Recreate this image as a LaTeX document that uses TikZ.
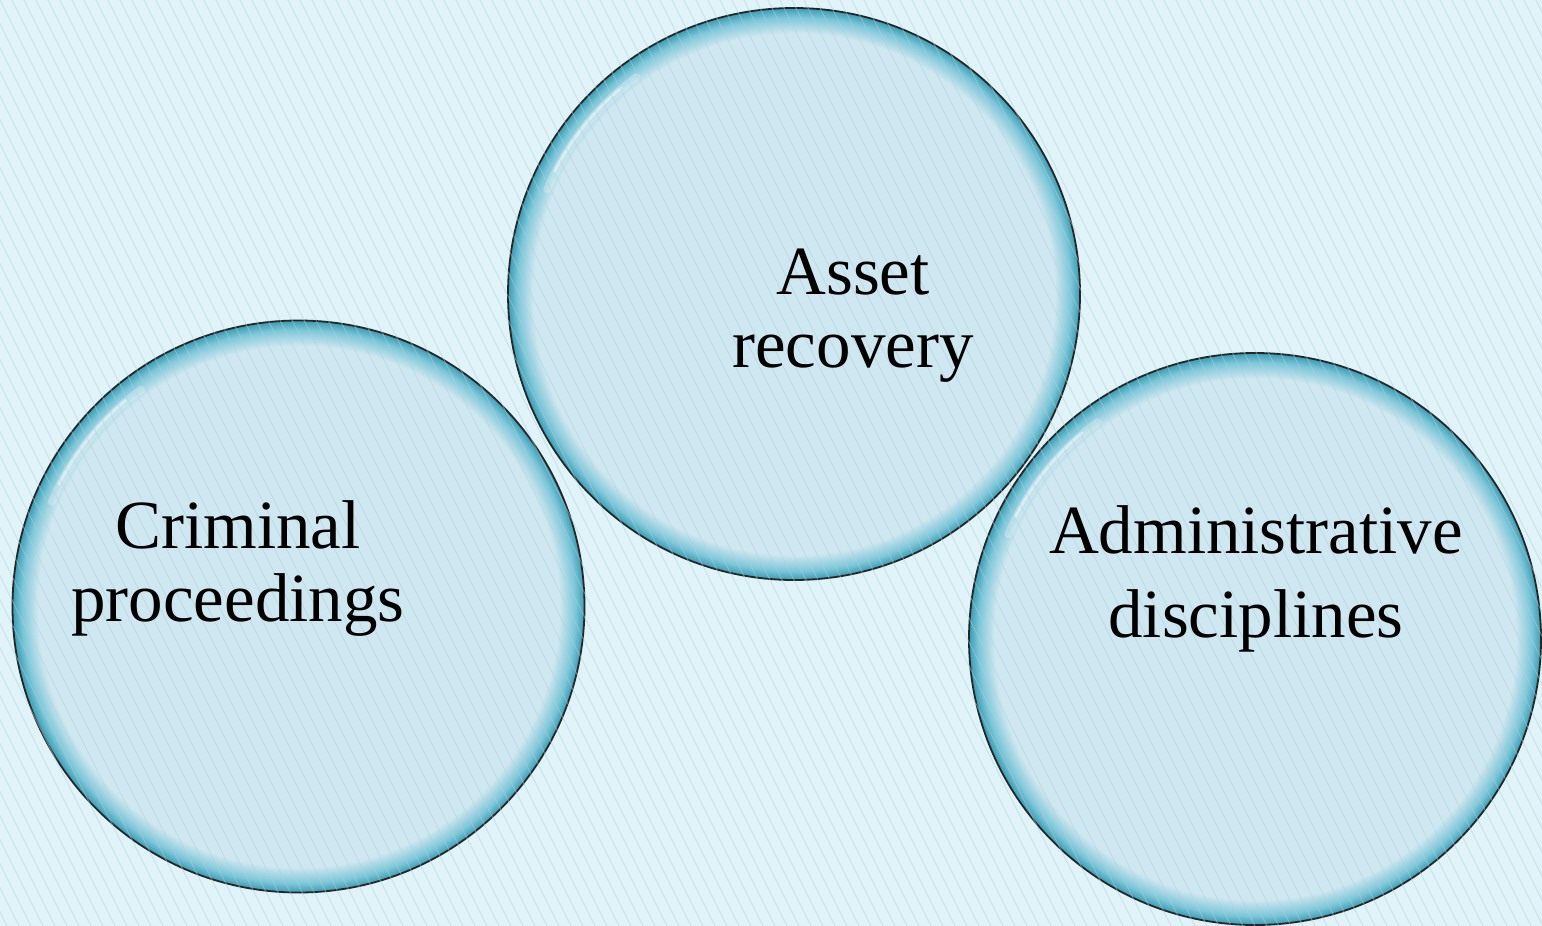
\documentclass[tikz,border=0pt]{standalone}
\usepackage{fontspec}
\setmainfont{Liberation Serif}
\usepackage{tikz}

\definecolor{bgcol}{HTML}{DFF3F8}
\definecolor{hatchcol}{HTML}{B0D0DC}
\definecolor{bubfill}{HTML}{CFE7F0}
\definecolor{rimmid}{HTML}{7CC6D8}
\definecolor{rimdark}{HTML}{3A9CB4}

\pgfdeclareradialshading{bubblerim}{\pgfpoint{0bp}{0bp}}{color(0bp)=(bubfill); color(22.8bp)=(bubfill); color(24.2bp)=(rimmid); color(25bp)=(rimdark); color(50bp)=(rimdark)}

\tikzset{
	bubble/.style={circle, minimum size=572pt, inner sep=0pt, draw=black!85, line width=1.8pt, shading=bubblerim},
	shine/.style={white, line cap=round, opacity=0.25, line width=8pt},
	label/.style={font=\fontsize{69}{73}\selectfont, align=center, inner sep=0pt}
}

\begin{document}
\begin{tikzpicture}[x=1pt, y=-1pt]
	\useasboundingbox (0,0) rectangle (1542,926);
	\fill[bgcol] (0,0) rectangle (1542,926);

	% the three bubbles
	\node (crim) [bubble] at (298.5,606.5) {};
	\node (asset) [bubble] at (794,294) {};
	\node (admin) [bubble] at (1255,639) {};

	% light on the upper left rim
	\foreach \c in {crim, asset, admin} {
		\draw[shine] (\c.center) ++(203:268) arc[start angle=203, end angle=234, radius=268];
		\draw[shine, line width=3pt, opacity=0.45] (\c.center) ++(207:269) arc[start angle=207, end angle=230, radius=269];
	}

	% hatching over everything
	\begin{scope}
		\clip (0,0) rectangle (1542,926);
		\foreach \i in {-40,...,130}
			\draw[hatchcol, opacity=0.45, line width=1pt] (\i*12, 0) -- (\i*12+463, 926);
	\end{scope}

	\node (crimtext) [label] at (238,569) {Criminal\\proceedings};
	\node (assettext) [label] at (853,316) {Asset\\recovery};
	\node (admintext) [label] at (1256,579) {Administrative\\[11pt]disciplines};
\end{tikzpicture}
\end{document}
